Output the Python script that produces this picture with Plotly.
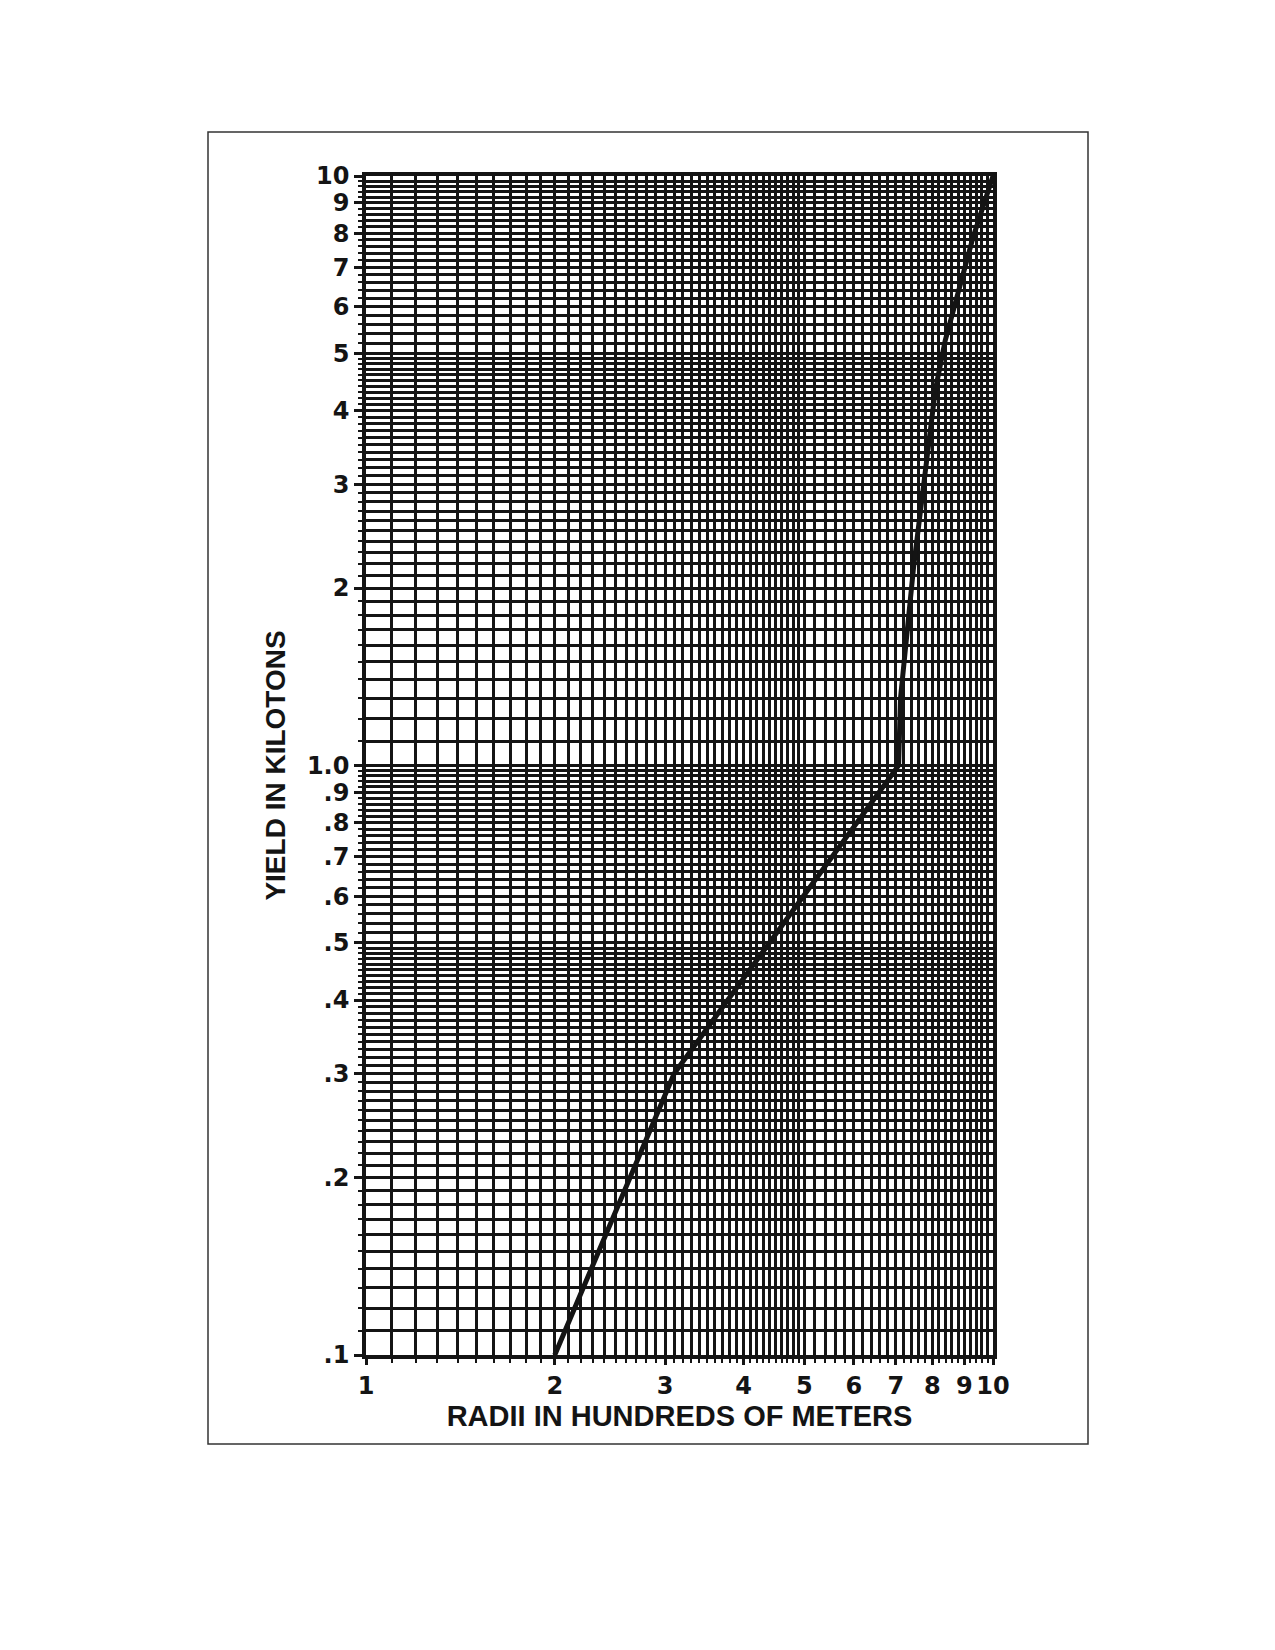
import numpy as np
import plotly.graph_objects as go

# curve (radius in hundreds of meters, yield in kilotons)
radius = [2.0, 3.1, 7.07, 7.12, 7.47, 7.72, 8.09, 8.39, 8.8, 9.29, 10.0]
yield_kt = [0.1, 0.30, 1.0, 1.3, 2.17, 2.93, 4.33, 5.26, 6.3, 7.86, 10.0]

x_ticks = [1, 2, 3, 4, 5, 6, 7, 8, 9, 10]
x_labels = ["1", "2", "3", "4", "5", "6", "7", "8", "9", "10"]
y_ticks = [0.1, 0.2, 0.3, 0.4, 0.5, 0.6, 0.7, 0.8, 0.9, 1, 2, 3, 4, 5, 6, 7, 8, 9, 10]
y_labels = [".1", ".2", ".3", ".4", ".5", ".6", ".7", ".8", ".9", "1.0",
            "2", "3", "4", "5", "6", "7", "8", "9", "10"]

# graph paper rulings
def rulings(step_lo, step_hi, scale):
    lo = np.arange(1 + step_lo, 5, step_lo)
    hi = np.arange(5 + step_hi, 10, step_hi)
    v = np.concatenate([lo, hi]) * scale
    return [round(float(a), 4) for a in v if abs(a / scale - round(a / scale)) > 1e-6]

x_minor = rulings(0.1, 0.2, 1)
y_minor = rulings(0.1, 0.2, 0.1) + rulings(0.1, 0.2, 1)

W, H = 1275, 1650
L, R, T, B = 358, 985, 168, 1347
INK = "#141414"
FONT = "Liberation Sans, Arial, sans-serif"
TICKFONT = "DejaVu Sans, Liberation Sans, sans-serif"

fig = go.Figure()
fig.add_trace(go.Scatter(
    x=radius, y=yield_kt, mode="lines",
    line=dict(color=INK, width=5),
    showlegend=False, hoverinfo="skip",
))

axis_common = dict(
    showline=True, mirror=True, linecolor=INK, linewidth=3.5,
    showgrid=True, gridcolor=INK, gridwidth=3.4,
    ticks="outside", tickcolor=INK, tickwidth=2.5,
    tickfont=dict(family=TICKFONT, size=24, color=INK),
    zeroline=False,
)

fig.update_xaxes(
    type="log", range=[0, 1],
    tickvals=x_ticks, ticktext=["<b>%s</b>" % t for t in x_labels],
    ticklen=6,
    minor=dict(tickvals=x_minor, showgrid=True, gridcolor=INK, gridwidth=2.9,
               ticks="outside", ticklen=4, tickcolor=INK, tickwidth=1.5),
    title=dict(text="<b>RADII IN HUNDREDS OF METERS</b>", standoff=6,
               font=dict(family=FONT, size=29, color=INK)),
    **axis_common,
)
fig.update_yaxes(
    type="log", range=[-1, 1],
    tickvals=y_ticks, ticktext=["<b>%s</b>" % t for t in y_labels],
    ticklen=8,
    minor=dict(tickvals=y_minor, showgrid=True, gridcolor=INK, gridwidth=2.9,
               ticks="outside", ticklen=4, tickcolor=INK, tickwidth=1.5),
    title=dict(text="<b>YIELD IN KILOTONS</b>", standoff=14,
               font=dict(family=FONT, size=28, color=INK)),
    **axis_common,
)

# outer frame around the figure
pw, ph = R - L, B - T
fig.add_shape(
    type="rect", xref="paper", yref="paper",
    x0=(200 - L) / pw, x1=(1080 - L) / pw,
    y0=(B - 1436) / ph, y1=(B - 124) / ph,
    line=dict(color="#333333", width=1.5),
)

fig.update_layout(
    width=W, height=H,
    margin=dict(l=L, r=W - R, t=T, b=H - B),
    paper_bgcolor="white", plot_bgcolor="white",
)

fig.write_html("out.html")
